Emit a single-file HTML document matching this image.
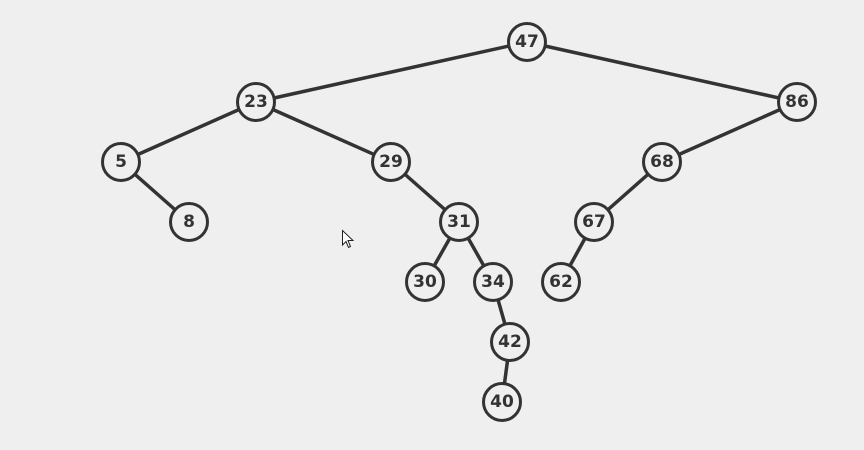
<!DOCTYPE html>
<html><head><style>html,body{margin:0;padding:0;background:#efefef;}</style></head>
<body>
<svg width="864" height="450" xmlns="http://www.w3.org/2000/svg" style="display:block">
<rect width="864" height="450" fill="#efefef"/>
<g stroke="#333" stroke-width="3.5" fill="none">
<line x1="527" y1="42" x2="256" y2="102"/>
<line x1="527" y1="42" x2="797" y2="102"/>
<line x1="256" y1="102" x2="121" y2="162"/>
<line x1="256" y1="102" x2="391" y2="162"/>
<line x1="797" y1="102" x2="662" y2="162"/>
<line x1="121" y1="162" x2="189" y2="222"/>
<line x1="391" y1="162" x2="459" y2="222"/>
<line x1="662" y1="162" x2="594" y2="222"/>
<line x1="459" y1="222" x2="425" y2="282"/>
<line x1="459" y1="222" x2="493" y2="282"/>
<line x1="594" y1="222" x2="561" y2="282"/>
<line x1="493" y1="282" x2="510" y2="342"/>
<line x1="510" y1="342" x2="502" y2="402"/>
</g>
<g stroke="#333" stroke-width="3" fill="#efefef">
<circle cx="527" cy="42" r="18.5"/><circle cx="256" cy="102" r="18.5"/><circle cx="797" cy="102" r="18.5"/>
<circle cx="121" cy="162" r="18.5"/><circle cx="391" cy="162" r="18.5"/><circle cx="662" cy="162" r="18.5"/>
<circle cx="189" cy="222" r="18.5"/><circle cx="459" cy="222" r="18.5"/><circle cx="594" cy="222" r="18.5"/>
<circle cx="425" cy="282" r="18.5"/><circle cx="493" cy="282" r="18.5"/><circle cx="561" cy="282" r="18.5"/>
<circle cx="510" cy="342" r="18.5"/><circle cx="502" cy="402" r="18.5"/>
</g>
<g font-family="'DejaVu Sans', 'Liberation Sans', sans-serif" font-weight="bold" font-size="17" fill="#333" text-anchor="middle" dominant-baseline="central">
<text x="527" y="42">47</text><text x="256" y="102">23</text><text x="797" y="102">86</text>
<text x="121" y="162">5</text><text x="391" y="162">29</text><text x="662" y="162">68</text>
<text x="189" y="222">8</text><text x="459" y="222">31</text><text x="594" y="222">67</text>
<text x="425" y="282">30</text><text x="493" y="282">34</text><text x="561" y="282">62</text>
<text x="510" y="342">42</text><text x="502" y="402">40</text>
</g>
<path d="M342.5 230.5 L342.5 245 L346 241.5 L348.5 247.5 L350.5 246.5 L348 240.5 L353 240.5 Z" fill="#fff" stroke="#222" stroke-width="1"/>
</svg>
</body></html>
